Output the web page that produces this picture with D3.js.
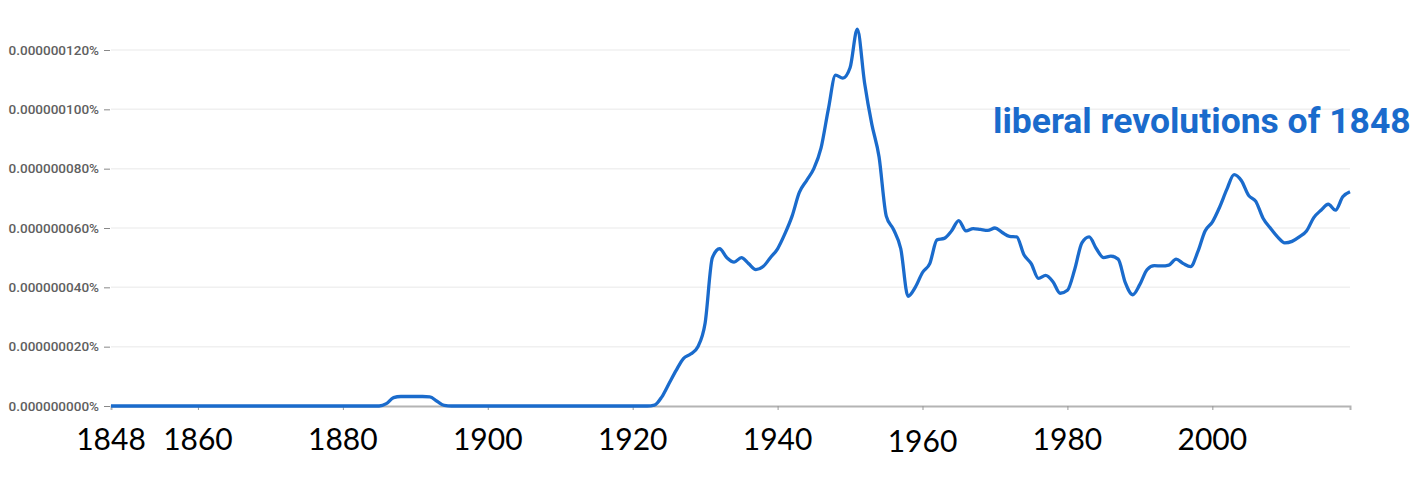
<!DOCTYPE html>
<html>
<head>
<meta charset="utf-8">
<script src="https://cdn.jsdelivr.net/npm/d3@7"></script>
<style>
  body { margin: 0; background: #fff; }
</style>
</head>
<body>
<div id="chart"></div>
<script>
// data, units of 1e-9 %
var startYear = 1848;
var values = [
  // 1848-1885
  0, 0, 0, 0, 0, 0, 0, 0, 0, 0, 0, 0, 0, 0, 0, 0, 0, 0, 0, 0,
  0, 0, 0, 0, 0, 0, 0, 0, 0, 0, 0, 0, 0, 0, 0, 0, 0, 0,
  // 1886-1894
  0.8, 2.8, 3.2, 3.2, 3.2, 3.2, 3.1, 1.6, 0.2,
  // 1895-1922
  0, 0, 0, 0, 0, 0, 0, 0, 0, 0, 0, 0, 0, 0, 0, 0, 0, 0, 0, 0,
  0, 0, 0, 0, 0, 0, 0, 0,
  // 1923-1939
  0.3, 3, 7.5, 12, 16, 17.5, 20, 28, 50, 53, 50, 48.5, 50, 48, 46, 47, 50,
  // 1940-1959
  53, 58, 64, 72, 76, 80, 87, 100, 111.5, 110.5, 114, 127, 109, 95, 84, 64, 59.5, 53, 37, 40,
  // 1960-1979
  45, 48, 56, 56.5, 59, 62.5, 59, 59.8, 59.5, 59.2, 60, 58.5, 57.2, 57, 51, 48, 43, 44, 41.9, 38,
  // 1980-1999
  39, 46, 55, 57, 53, 50, 50.5, 49.5, 41.5, 37.5, 41, 46, 47.3, 47.2, 47.5, 49.5, 48, 47, 52, 59,
  // 2000-2019
  62, 67, 73, 78, 76, 71, 69, 63.3, 60, 57, 55, 55.5, 57, 59, 63.5, 66, 68, 66, 70.5, 72.2
];
var yTicks = [0, 20, 40, 60, 80, 100, 120];
var yTickLabels = ["0.000000000%", "0.000000020%", "0.000000040%", "0.000000060%",
                   "0.000000080%", "0.000000100%", "0.000000120%"];
var xTicks = [1860, 1880, 1900, 1920, 1940, 1960, 1980, 2000];
var xLabels = [1848, 1860, 1880, 1900, 1920, 1940, 1960, 1980, 2000];
var seriesName = "liberal revolutions of 1848";

var width = 1423, height = 495;

var svg = d3.select("#chart")
  .append("svg")
    .attr("width", width)
    .attr("height", height);

var x = d3.scaleLinear()
    .domain([1848, 2019])
    .range([111, 1350]);

var y = d3.scaleLinear()
    .domain([0, 120])
    .range([406, 50]);

// grid lines
svg.append("g")
  .selectAll("line")
  .data(yTicks.slice(1))
  .join("line")
    .attr("x1", 111)
    .attr("x2", 1350)
    .attr("y1", d => y(d))
    .attr("y2", d => y(d))
    .style("stroke", "#f0f0f0")
    .style("stroke-width", 1.5);

// y axis labels
var yAxis = d3.axisLeft(y)
    .tickValues(yTicks)
    .tickSize(6)
    .tickPadding(5)
    .tickFormat((d, i) => yTickLabels[i]);

svg.append("g")
    .attr("transform", "translate(110,0)")
    .call(yAxis)
    .call(g => g.select(".domain").remove())
    .call(g => g.selectAll(".tick line").style("stroke", "#888"))
    .call(g => g.selectAll(".tick text")
      .style("font-family", "Roboto")
      .style("font-size", "13.5px")
      .style("font-weight", 500)
      .style("fill", "#606060"));

// x axis
var xAxis = d3.axisBottom(x)
    .tickValues(xTicks)
    .tickSize(4)
    .tickFormat("");

svg.append("g")
    .attr("transform", "translate(0,406)")
    .call(xAxis)
    .call(g => g.select(".domain").style("stroke", "#b4b4b4").style("stroke-width", 2))
    .call(g => g.selectAll(".tick line").style("stroke", "#999"));

// the line
var line = d3.line()
    .x((d, i) => x(startYear + i))
    .y(d => y(d))
    .curve(d3.curveMonotoneX);

svg.append("path")
    .datum(values)
    .attr("d", line)
    .style("fill", "none")
    .style("stroke", "#1a6bcc")
    .style("stroke-width", 3.3)
    .style("stroke-linejoin", "round");

// series label
svg.append("text")
    .attr("x", 993)
    .attr("y", 133)
    .text(seriesName)
    .style("font-family", "Roboto")
    .style("font-weight", 700)
    .style("font-size", "35.5px")
    .style("fill", "#1a6bcc");

// big year labels under the axis
svg.append("g")
  .selectAll("text")
  .data(xLabels)
  .join("text")
    .attr("x", d => x(d))
    .attr("y", d => d == 1960 ? 452 : 450)
    .attr("text-anchor", "middle")
    .text(d => d)
    .style("font-family", "Lato")
    .style("font-size", "30px")
    .style("fill", "#000");
</script>
</body>
</html>
